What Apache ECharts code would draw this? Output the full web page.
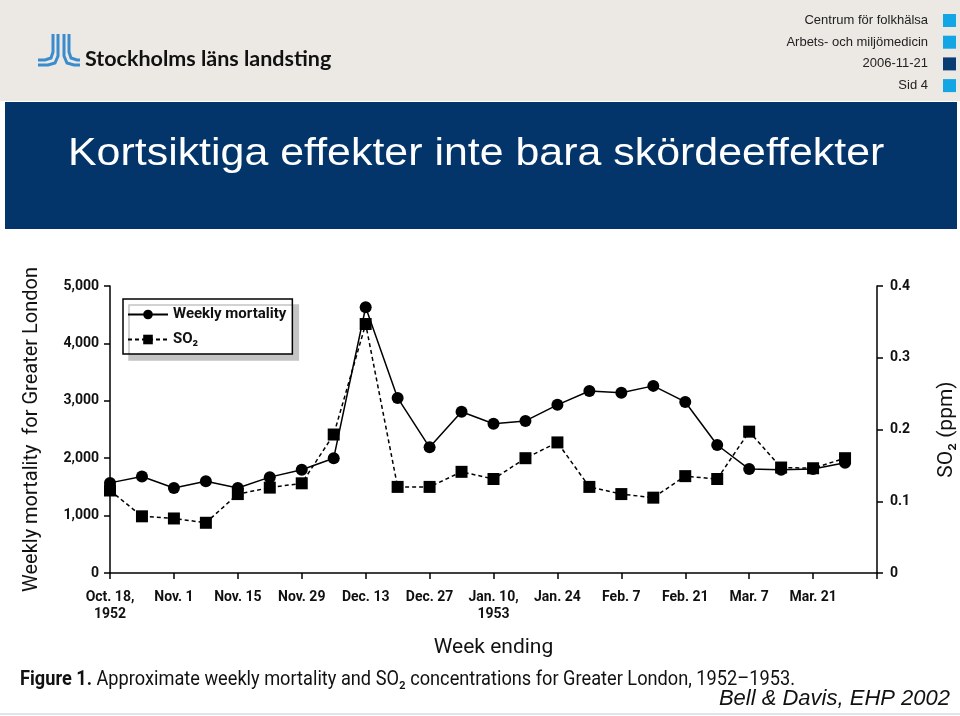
<!DOCTYPE html>
<html>
<head>
<meta charset="utf-8">
<script src="https://cdn.jsdelivr.net/npm/echarts@6/dist/echarts.min.js"></script>
<style>
  html, body { margin: 0; padding: 0; background: #fff; }
  #chart { width: 960px; height: 716px; }
</style>
</head>
<body>
<div id="chart"></div>
<script>
// week ending dates, Oct 18 1952 .. Apr 4 1953 (last one only closes the axis)
const weeks = [
  'Oct. 18,\n1952', 'Oct. 25', 'Nov. 1', 'Nov. 8', 'Nov. 15', 'Nov. 22', 'Nov. 29', 'Dec. 6',
  'Dec. 13', 'Dec. 20', 'Dec. 27', 'Jan. 3', 'Jan. 10,\n1953', 'Jan. 17', 'Jan. 24', 'Jan. 31',
  'Feb. 7', 'Feb. 14', 'Feb. 21', 'Feb. 28', 'Mar. 7', 'Mar. 14', 'Mar. 21', 'Mar. 28', 'Apr. 4'
]
// weekly deaths, Greater London
const mortality = [1570, 1680, 1480, 1600, 1480, 1670, 1800, 2000, 4630, 3050, 2190, 2810,
  2600, 2650, 2930, 3170, 3140, 3260, 2980, 2230, 1810, 1800, 1810, 1920]
// SO2 (ppm)
const so2 = [0.115, 0.079, 0.076, 0.070, 0.110, 0.119, 0.125, 0.193, 0.347, 0.120, 0.120, 0.141,
  0.131, 0.160, 0.182, 0.120, 0.110, 0.105, 0.135, 0.131, 0.197, 0.147, 0.146, 0.160]

const headerLines = ['Centrum för folkhälsa', 'Arbets- och miljömedicin', '2006-11-21', 'Sid 4']
const headerSquares = ['#12a6e4', '#12a6e4', '#0a3c74', '#12a6e4']

const narrow = 'Roboto, "Liberation Sans", sans-serif'
const logoBlue = '#3a8ccc'

let chart = echarts.init(document.getElementById('chart'), null, { renderer: 'canvas' })

let graphics = [
  { type: 'rect', shape: { x: 0, y: 0, width: 960, height: 101 }, style: { fill: '#ece9e5' }, z: -10 },
  { type: 'rect', shape: { x: 5, y: 102, width: 952, height: 127 }, style: { fill: '#03346a' }, z: -9 },
  { type: 'rect', shape: { x: 0, y: 713, width: 960, height: 2 }, style: { fill: '#dfe5ec' }, z: -9 },
  {
    type: 'text', x: 68, y: 135, scaleX: 1.1,
    style: { text: 'Kortsiktiga effekter inte bara skördeeffekter', fill: '#fff',
      font: '39px "Liberation Sans", Arial, sans-serif' }
  },
  // logo mark
  { type: 'polyline', shape: { points: [[53, 34], [53, 52], [51, 58], [45, 60], [38, 60]] }, style: { stroke: logoBlue, lineWidth: 3, fill: null } },
  { type: 'polyline', shape: { points: [[58, 34], [58, 56], [55, 63], [48, 65], [38, 65]] }, style: { stroke: logoBlue, lineWidth: 3, fill: null } },
  { type: 'polyline', shape: { points: [[64, 34], [64, 56], [67, 63], [74, 65], [80, 65]] }, style: { stroke: logoBlue, lineWidth: 3, fill: null } },
  { type: 'polyline', shape: { points: [[69, 34], [69, 52], [71, 58], [77, 60], [80, 60]] }, style: { stroke: logoBlue, lineWidth: 3, fill: null } },
  {
    type: 'text', left: 85, top: 48,
    style: { text: 'Stockholms läns landsting', fill: '#111', font: 'bold 21.5px Lato, "Open Sans", sans-serif' }
  },
  {
    type: 'text', x: 20, y: 670, scaleX: 0.91,
    style: {
      text: '{b|Figure 1.} Approximate weekly mortality and SO₂ concentrations for Greater London, 1952–1953.',
      fill: '#111', font: '20px ' + narrow,
      rich: { b: { fontWeight: 'bold', fontSize: 20, fontFamily: narrow, fill: '#111' } }
    }
  },
  {
    type: 'text', right: 10, top: 688,
    style: { text: 'Bell & Davis, EHP 2002', fill: '#111', font: 'italic 22px "Liberation Sans", Arial, sans-serif' }
  }
]
headerLines.forEach((t, i) => {
  graphics.push({
    type: 'text', right: 32, top: 14 + i * 21.7,
    style: { text: t, fill: '#222', font: '13px "Liberation Sans", Arial, sans-serif' }
  })
  graphics.push({
    type: 'rect', shape: { x: 943, y: 14 + i * 21.7, width: 13, height: 13 }, style: { fill: headerSquares[i] }
  })
})

const axisText = { color: '#111', fontFamily: narrow, fontWeight: 'bold', fontSize: 14 }
const blackLine = { lineStyle: { color: '#000', width: 1.5 } }

let option = {
  backgroundColor: '#fff',
  animation: false,
  graphic: graphics,
  grid: { left: 110, right: 83, top: 286, bottom: 143, outerBoundsMode: 'none', containLabel: false },
  legend: {
    orient: 'vertical',
    left: 123, top: 299,
    padding: [8, 6, 7, 4],
    itemGap: 10,
    itemWidth: 40, itemHeight: 12,
    backgroundColor: '#fff',
    borderColor: '#000', borderWidth: 1.5,
    shadowColor: '#c4c4c4', shadowBlur: 0, shadowOffsetX: 6, shadowOffsetY: 6,
    textStyle: { color: '#111', fontFamily: narrow, fontWeight: 'bold', fontSize: 15 },
    data: ['Weekly mortality', 'SO₂']
  },
  xAxis: {
    type: 'category',
    data: weeks,
    boundaryGap: false,
    name: 'Week ending',
    nameLocation: 'middle',
    nameGap: 64,
    nameTextStyle: { color: '#111', fontFamily: narrow, fontSize: 21 },
    axisLine: blackLine,
    axisTick: { length: 6, lineStyle: { color: '#000', width: 1.5 },
      interval: (i) => i % 2 === 0 },
    axisLabel: Object.assign({}, axisText, {
      margin: 16, lineHeight: 17,
      interval: (i) => i % 2 === 0 && i < weeks.length - 1
    }),
    splitLine: { show: false }
  },
  yAxis: [
    {
      type: 'value', min: 0, max: 5000, interval: 1000,
      name: 'Weekly mortality  for Greater London',
      nameLocation: 'middle', nameGap: 68,
      nameTextStyle: { color: '#111', fontFamily: narrow, fontSize: 20 },
      axisLine: Object.assign({ show: true }, blackLine),
      axisTick: { show: true, length: 6, lineStyle: { color: '#000', width: 1.5 } },
      axisLabel: Object.assign({}, axisText, { margin: 11, formatter: (v) => v.toLocaleString('en-US') }),
      splitLine: { show: false }
    },
    {
      type: 'value', min: 0, max: 0.4, interval: 0.1, position: 'right',
      name: 'SO₂ (ppm)',
      nameLocation: 'middle', nameGap: 59, nameRotate: 90,
      nameTextStyle: { color: '#111', fontFamily: narrow, fontSize: 21 },
      axisLine: Object.assign({ show: true }, blackLine),
      axisTick: { show: true, length: 6, lineStyle: { color: '#000', width: 1.5 } },
      axisLabel: Object.assign({}, axisText, { margin: 13, formatter: (v) => v === 0 ? '0' : v.toFixed(1) }),
      splitLine: { show: false }
    }
  ],
  series: [
    {
      name: 'Weekly mortality',
      type: 'line',
      yAxisIndex: 0,
      data: mortality,
      symbol: 'circle', symbolSize: 12,
      itemStyle: { color: '#000' },
      lineStyle: { color: '#000', width: 1.5 },
      z: 3
    },
    {
      name: 'SO₂',
      type: 'line',
      yAxisIndex: 1,
      data: so2,
      symbol: 'rect', symbolSize: 12,
      itemStyle: { color: '#000' },
      lineStyle: { color: '#000', width: 1.5, type: [4, 3] },
      z: 2
    }
  ]
}

chart.setOption(option)
</script>
</body>
</html>
